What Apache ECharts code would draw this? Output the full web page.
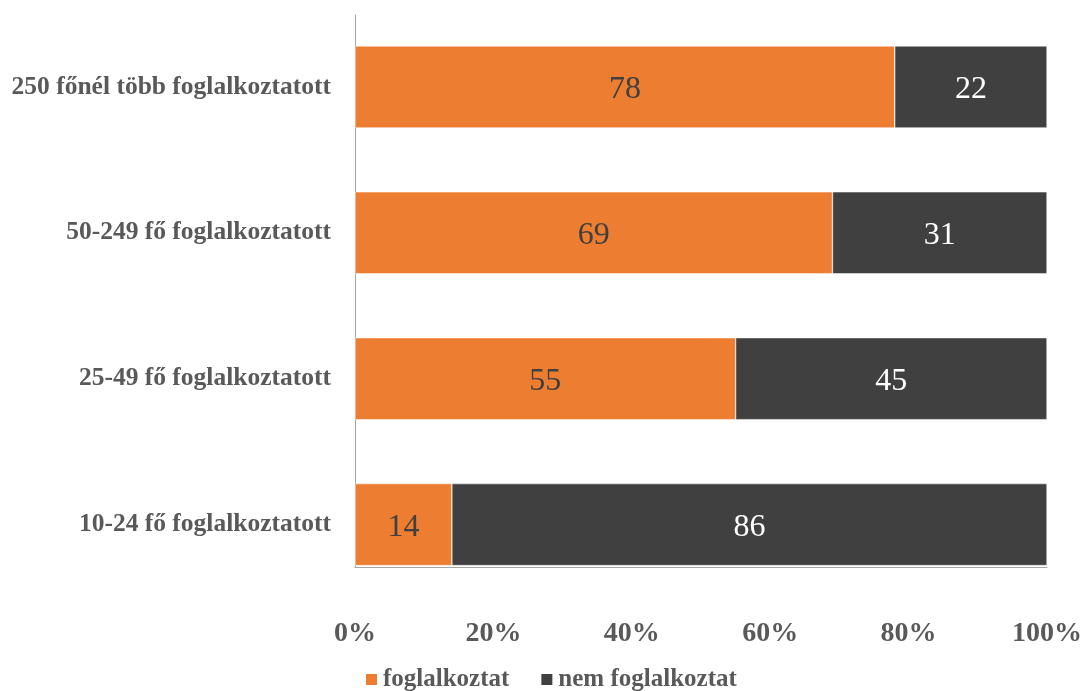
<!DOCTYPE html>
<html><head><meta charset="utf-8">
<script src="https://cdn.jsdelivr.net/npm/echarts@6/dist/echarts.min.js"></script>
<style>html,body{margin:0;padding:0;background:#fff}#c{width:1086px;height:691px}</style>
</head><body><div id="c"></div>
<script>
const categories = ['10-24 fő foglalkoztatott','25-49 fő foglalkoztatott','50-249 fő foglalkoztatott','250 főnél több foglalkoztatott'];
const foglalkoztat = [14, 55, 69, 78];
const nemFoglalkoztat = [86, 45, 31, 22];
const xTicks = [0, 20, 40, 60, 80, 100];

const chart = echarts.init(document.getElementById('c'));
const font = '"Liberation Serif","Times New Roman",serif';
chart.setOption({
  animation: false,
  grid: [
    {left: 355, right: 39, top: 14, bottom: 93.5},
    {left: 355, right: 39, top: 15, bottom: 124}
  ],
  legend: {
    top: 662, left: 359, itemWidth: 13, itemHeight: 13, itemGap: 30,
    icon: 'rect',
    textStyle: {fontFamily: font, fontSize: 25, fontWeight: 'bold', color: '#595959'},
    data: ['foglalkoztat', 'nem foglalkoztat']
  },
  xAxis: [{
    type: 'value', min: 0, max: 100, interval: 20, gridIndex: 0, offset: -30.5,
    axisLine: {show: true, lineStyle: {color: '#a6a6a6'}},
    axisTick: {show: false}, splitLine: {show: false},
    axisLabel: {formatter: v => xTicks.includes(v) ? v + '%' : '', margin: 53,
      fontFamily: font, fontSize: 28, fontWeight: 'bold', color: '#595959'}
  }, {
    type: 'value', min: 0, max: 100, gridIndex: 1, show: false
  }],
  yAxis: [{
    type: 'category', data: categories, gridIndex: 0,
    axisLine: {show: false},
    axisTick: {show: false},
    axisLabel: {margin: 24, fontFamily: font, fontSize: 25.5, fontWeight: 'bold', color: '#595959'}
  }, {
    type: 'category', data: categories, gridIndex: 1,
    axisLine: {show: true, lineStyle: {color: '#a6a6a6'}},
    axisTick: {show: false}, axisLabel: {show: false}
  }],
  series: [
    {name: 'foglalkoztat', type: 'bar', stack: 's', data: foglalkoztat, barWidth: 82,
     itemStyle: {color: '#ED7D31', borderColor: '#ffffff', borderWidth: 0.5},
     label: {show: true, position: 'inside', offset: [0, 3], fontFamily: font, fontSize: 32, color: '#404040'}},
    {name: 'nem foglalkoztat', type: 'bar', stack: 's', data: nemFoglalkoztat, barWidth: 82,
     itemStyle: {color: '#404040', borderColor: '#ffffff', borderWidth: 0.5},
     label: {show: true, position: 'inside', offset: [0, 3], fontFamily: font, fontSize: 32, color: '#ffffff'}}
  ]
});
</script></body></html>
